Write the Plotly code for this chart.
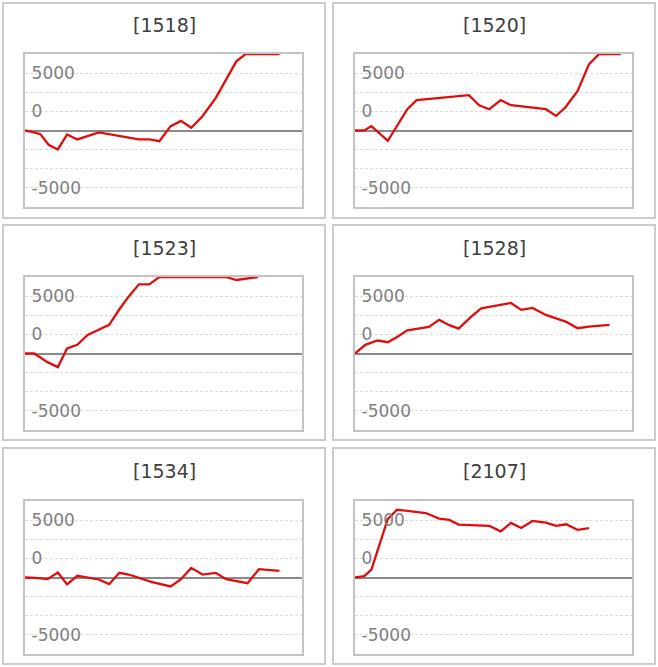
import plotly.graph_objects as go

# ---- data (x = trading-day position, y = value) ----
titles = ["[1518]", "[1520]", "[1523]", "[1528]", "[1534]", "[2107]"]

x_1518 = [0, 0.7, 1.5, 2.3, 3.2, 4.1, 5.1, 7.2, 11.1, 12.1, 13.1, 14.2, 15.2, 16.2, 17.3, 18.6, 20.6, 21.5, 24.8]
y_1518 = [0, -170, -480, -1870, -2480, -520, -1170, -260, -1170, -1170, -1390, 565, 1260, 350, 1870, 4260, 9040, 10000, 10000]

x_1520 = [0, 0.9, 1.6, 3.2, 5.1, 6.0, 11.1, 12.1, 13.1, 14.2, 15.2, 18.6, 19.6, 20.5, 21.7, 22.8, 23.8, 25.9]
y_1520 = [0, 0, 570, -1350, 2780, 3960, 4610, 3300, 2780, 3960, 3300, 2780, 1910, 3000, 5170, 8650, 10000, 10000]

x_1523 = [0, 0.9, 2.2, 3.2, 4.1, 5.1, 6.1, 8.2, 9.2, 10.1, 11.1, 12.1, 13.1, 19.6, 20.6, 22.7]
y_1523 = [0, 0, -1130, -1780, 650, 1130, 2430, 3740, 5780, 7430, 9040, 9040, 10000, 10000, 9610, 10000]

x_1528 = [0, 1.0, 2.2, 3.2, 4.1, 5.1, 7.2, 8.2, 9.2, 10.1, 11.3, 12.3, 15.2, 16.2, 17.3, 18.6, 20.6, 21.7, 22.8, 24.8]
y_1528 = [0, 1130, 1700, 1480, 2170, 3040, 3480, 4390, 3700, 3260, 4780, 5910, 6610, 5700, 5960, 5040, 4130, 3300, 3520, 3740]

x_1534 = [0, 1.0, 2.2, 3.2, 4.1, 5.1, 7.2, 8.2, 9.2, 10.1, 12.3, 14.2, 15.2, 16.2, 17.3, 18.6, 19.6, 20.6, 21.7, 22.8, 24.8]
y_1534 = [0, -40, -220, 650, -910, 220, -260, -870, 610, 390, -570, -1170, -220, 1260, 390, 610, -220, -480, -740, 1090, 870]

x_2107 = [0, 0.9, 1.6, 2.2, 3.2, 4.1, 6.9, 8.2, 9.2, 10.1, 13.1, 14.2, 15.2, 16.2, 17.3, 18.6, 19.6, 20.6, 21.7, 22.8]
y_2107 = [0, 170, 1040, 3430, 7650, 8870, 8430, 7700, 7520, 6910, 6740, 6040, 7130, 6480, 7390, 7170, 6740, 6960, 6220, 6440]

series_x = [x_1518, x_1520, x_1523, x_1528, x_1534, x_2107]
series_y = [y_1518, y_1520, y_1523, y_1528, y_1534, y_2107]

grid_vals = [-10000, -7500, -5000, -2500, 0, 2500, 5000, 7500, 10000]
grid_text = ["", "-5000", "", "", "", "0", "", "5000", ""]

# ---- layout geometry (pixels) ----
W, H = 658, 667
col_plot_x = [(25, 302), (355, 632)]
row_plot_y = [(54, 207), (277, 430), (501, 654)]
col_box_x = [(3, 325), (333, 655)]
row_box_y = [(3, 218), (225, 440), (448, 664)]
row_title_y = [25, 248, 471]

fig = go.Figure()
shapes = []
annotations = []

for i in range(6):
    r, c = divmod(i, 2)
    n = "" if i == 0 else str(i + 1)
    fig.add_trace(go.Scatter(
        x=series_x[i], y=series_y[i], mode="lines",
        line=dict(color="#e00d0d", width=2.3),
        xaxis="x" + n, yaxis="y" + n, showlegend=False, hoverinfo="skip"))
    x0, x1 = col_plot_x[c]
    y0, y1 = row_plot_y[r]
    fig.layout["xaxis" + n] = dict(
        domain=[x0 / W, x1 / W], range=[0, 27], anchor="y" + n,
        showticklabels=False, showgrid=False, zeroline=False, ticks="",
        showline=True, mirror=True, linecolor="#c4c4c4", linewidth=2, fixedrange=True)
    fig.layout["yaxis" + n] = dict(
        domain=[1 - y1 / H, 1 - y0 / H], range=[-10000, 10000], anchor="x" + n,
        tickmode="array", tickvals=grid_vals, ticktext=grid_text,
        ticklabelposition="inside", ticks="", ticklabelstandoff=7,
        tickfont=dict(family="DejaVu Sans", size=17, color="#808080"),
        showgrid=True, gridcolor="#dcdcdc", gridwidth=1, griddash="3px,2px",
        zeroline=True, zerolinecolor="#8a8a8a", zerolinewidth=2,
        showline=True, mirror=True, linecolor="#c4c4c4", linewidth=2, fixedrange=True)
    bx0, bx1 = col_box_x[c]
    by0, by1 = row_box_y[r]
    shapes.append(dict(type="rect", xref="paper", yref="paper",
                       x0=bx0 / W, x1=bx1 / W, y0=1 - by1 / H, y1=1 - by0 / H,
                       line=dict(color="#cccccc", width=2), layer="below"))
    annotations.append(dict(text=titles[i], xref="paper", yref="paper",
                            x=(bx0 + bx1) / 2 / W, y=1 - row_title_y[r] / H,
                            xanchor="center", yanchor="middle", showarrow=False,
                            font=dict(family="DejaVu Sans", size=19, color="#404040")))

fig.update_layout(
    width=W, height=H, margin=dict(l=0, r=0, t=0, b=0),
    paper_bgcolor="white", plot_bgcolor="white",
    shapes=shapes, annotations=annotations)

fig.write_html("out.html", config={"displayModeBar": False},
               post_script="document.body.style.margin='0';")
